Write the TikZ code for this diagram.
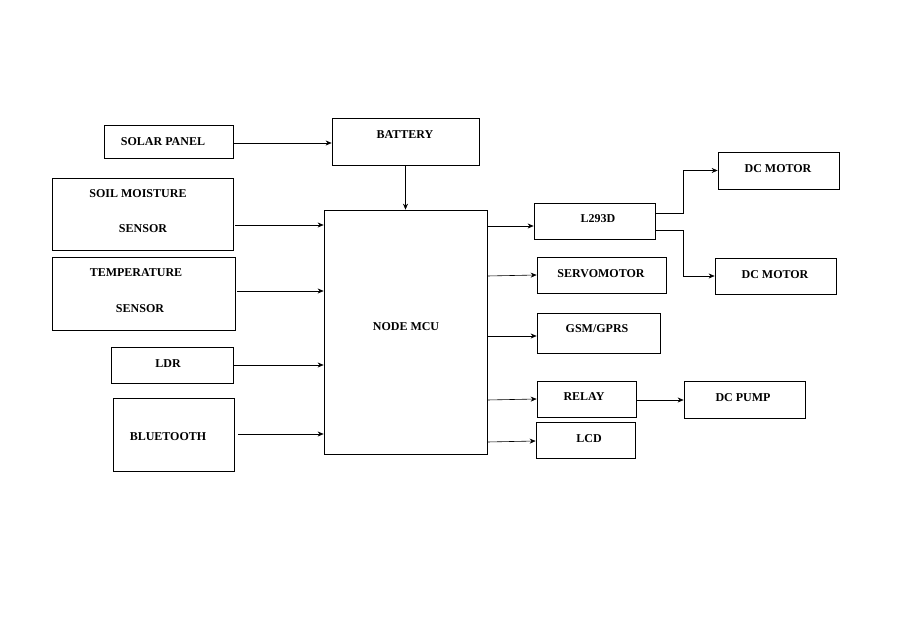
\documentclass[tikz,border=0pt]{standalone}
\usepackage{fontspec}
\setmainfont{Liberation Serif}
\usetikzlibrary{arrows.meta}
\begin{document}
\begin{tikzpicture}[x=1pt,y=-1pt,
  box/.style={draw,line width=0.7pt,inner sep=0pt},
  txt/.style={font=\bfseries\fontsize{12}{14}\selectfont,inner sep=0pt},
  arr/.style={-{Stealth[length=6pt,width=5pt]},line width=0.6pt}]
\useasboundingbox (0,0) rectangle (922,634);
\newcommand{\bx}[5]{\node[box,minimum width=#4-#2,minimum height=#5-#3] (#1) at ({(#2+#4)/2},{(#3+#5)/2}) {};}
\bx{sol}{104}{125}{233}{158}
\bx{bat}{332}{118}{479}{165}
\bx{soil}{52}{178}{233}{250}
\bx{temp}{52}{257}{235}{330}
\bx{ldr}{111}{347}{233}{383}
\bx{bt}{113}{398}{234}{471}
\bx{mcu}{324}{210}{487}{454}
\bx{l293}{534}{203}{655}{239}
\bx{dc1}{718}{152}{839}{189}
\bx{dc2}{715}{258}{836}{294}
\bx{servo}{537}{257}{666}{293}
\bx{gsm}{537}{313}{660}{353}
\bx{relay}{537}{381}{636}{417}
\bx{pump}{684}{381}{805}{418}
\bx{lcd}{536}{422}{635}{458}
\node[txt] at (163,142) {SOLAR PANEL};
\node[txt] at (405,135) {BATTERY};
\node[txt] at (138,194) {SOIL MOISTURE};
\node[txt] at (143,229) {SENSOR};
\node[txt] at (136,273) {TEMPERATURE};
\node[txt] at (140,309) {SENSOR};
\node[txt] at (168,364) {LDR};
\node[txt] at (168,437) {BLUETOOTH};
\node[txt] at (406,327) {NODE MCU};
\node[txt] at (598,219) {L293D};
\node[txt] at (778,169) {DC MOTOR};
\node[txt] at (775,275) {DC MOTOR};
\node[txt] at (601,274) {SERVOMOTOR};
\node[txt] at (597,329) {GSM/GPRS};
\node[txt] at (584,397) {RELAY};
\node[txt] at (743,398) {DC PUMP};
\node[txt] at (589,439) {LCD};
\coordinate (j1) at (683,213);
\coordinate (j2) at (683,230);
\draw[arr] (233,143) -- (bat.west |- 0,143);
\draw[arr] (bat.south) -- (mcu.north -| bat.south);
\draw[arr] (235,225) -- (mcu.west |- 0,225);
\draw[arr] (237,291) -- (mcu.west |- 0,291);
\draw[arr] (ldr.east) -- (mcu.west |- ldr.east);
\draw[arr] (238,434) -- (mcu.west |- 0,434);
\draw[arr] (mcu.east |- 0,226) -- (l293.west |- 0,226);
\draw[arr] (mcu.east |- 0,276) -- (servo.west |- 0,275);
\draw[arr] (mcu.east |- 0,336) -- (gsm.west |- 0,336);
\draw[arr] (mcu.east |- 0,400) -- (relay.west |- 0,399);
\draw[arr] (mcu.east |- 0,442) -- (lcd.west |- 0,441);
\draw[arr] (l293.east |- j1) -- (j1) |- (dc1.west);
\draw[arr] (l293.east |- j2) -- (j2) |- (dc2.west);
\draw[arr] (relay.east |- 0,400) -- (pump.west |- 0,400);
\end{tikzpicture}
\end{document}
